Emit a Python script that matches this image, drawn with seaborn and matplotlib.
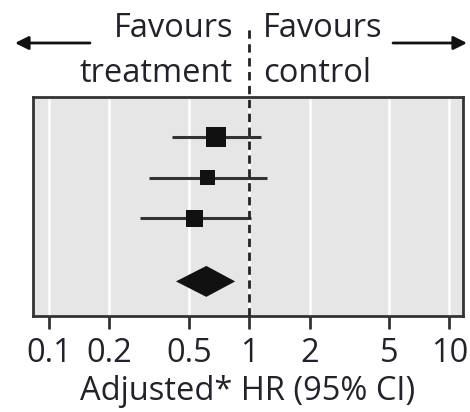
import matplotlib
matplotlib.use("Agg")
import matplotlib.pyplot as plt
import seaborn as sns
import pandas as pd
import numpy as np

# ---- data ----
rows = ["Study 1", "Study 2", "Study 3"]
hr = [0.68, 0.62, 0.53]
ci_low = [0.41, 0.315, 0.285]
ci_high = [1.14, 1.22, 1.02]
weights = [20, 15, 17]  # marker size proxy (px)

pooled_hr = 0.61
pooled_low = 0.43
pooled_high = 0.85

xticks = [0.1, 0.2, 0.5, 1, 2, 5, 10]
xtick_labels = ["0.1", "0.2", "0.5", "1", "2", "5", "10"]
xlabel = "Adjusted* HR (95% CI)"
left_lines = ["Favours", "treatment"]
right_lines = ["Favours", "control"]

sns.set_style("white")
plt.rcParams['font.family'] = ['Open Sans', 'DejaVu Sans']
txt_color = "#22222a"
FS = 23.5

W, H = 470, 412
fig = plt.figure(figsize=(W / 100, H / 100), dpi=100)
ax_top, ax_bot = 97, 316
ax = fig.add_axes([33 / W, 1 - ax_bot / H, (463 - 33) / W, (ax_bot - ax_top) / H])
ax.set_facecolor("#e6e6e6")

ypos = [1, 2, 3]
pooled_y = 4.55

df = pd.DataFrame({"hr": hr, "y": ypos, "lo": ci_low, "hi": ci_high,
                   "w": [(w * 0.72) ** 2 for w in weights]})

ax.set_xscale("log")
ax.set_xlim(0.083, 11.7)
ax.set_ylim(5.4, 0.02)

for x in xticks:
    ax.axvline(x, color="white", lw=1.8, zorder=0)

ax.hlines(df["y"], df["lo"], df["hi"], color="#333333", lw=2.2, zorder=2)
sns.scatterplot(data=df, x="hr", y="y", size="w", sizes=(min(df["w"]), max(df["w"])),
                marker="s", color="#111111", edgecolor="none", legend=False, ax=ax, zorder=3)

dh = 0.38
ax.fill([pooled_low, pooled_hr, pooled_high, pooled_hr],
        [pooled_y, pooled_y - dh, pooled_y, pooled_y + dh],
        color="#111111", zorder=3, lw=0)

ax.axvline(1, ymin=0, ymax=1.315, color="#222222", lw=2, ls=(0, (3, 2)),
           clip_on=False, zorder=4)

ax.set_xticks(xticks)
ax.set_xticklabels(xtick_labels)
ax.minorticks_off()
ax.set_yticks([])
ax.tick_params(axis="x", direction="out", length=9, width=2, color="#333333",
               labelsize=FS, labelcolor=txt_color, pad=6, bottom=True)
ax.set_xlabel(xlabel, fontsize=FS, color=txt_color, labelpad=4)
ax.set_ylabel("")
for s in ax.spines.values():
    s.set_color("#333333")
    s.set_linewidth(2)

tr = ax.get_xaxis_transform()
h = ax_bot - ax_top
for line, ypix in zip(left_lines, [37, 82]):
    ax.text(0.83, (ax_bot - ypix) / h, line, transform=tr, ha="right", va="baseline",
            fontsize=FS, color=txt_color)
for line, ypix in zip(right_lines, [37, 82]):
    ax.text(1.17, (ax_bot - ypix) / h, line, transform=tr, ha="left", va="baseline",
            fontsize=FS, color=txt_color)

ya = 1 - 43 / H
for tail, head in [(90, 15), (393, 467)]:
    ax.annotate("", xy=(head / W, ya), xytext=(tail / W, ya), xycoords="figure fraction",
                textcoords="figure fraction",
                arrowprops=dict(arrowstyle="-|>,head_length=0.8,head_width=0.4",
                                color="#111111", lw=2, shrinkA=0, shrinkB=0))

fig.savefig("out.png", dpi=100, facecolor="white")
